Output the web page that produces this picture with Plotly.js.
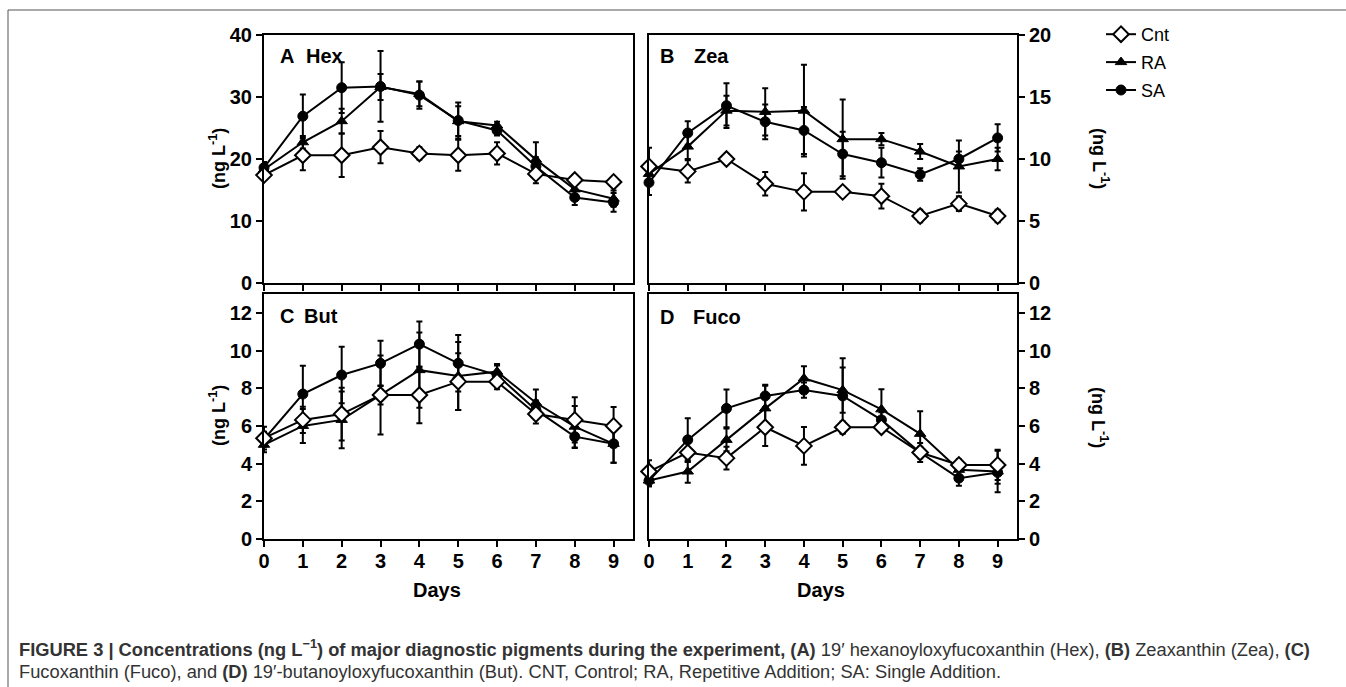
<!DOCTYPE html>
<html>
<head>
<meta charset="utf-8">
<script src="https://cdn.plot.ly/plotly-3.0.1.min.js"></script>
<style>
html,body{margin:0;padding:0;background:#fff;}
#chart{width:1346px;height:687px;}
</style>
</head>
<body>
<div id="chart"></div>
<script>
// ---- data ----
const days = [0, 1, 2, 3, 4, 5, 6, 7, 8, 9];
const seriesNames = ["Cnt", "RA", "SA"];

// A: Hex
const hexCnt    = [17.4, 20.6, 20.6, 21.9, 20.9, 20.6, 20.9, 17.6, 16.6, 16.3];
const hexCntErr = [0.8, 2.4, 3.5, 2.6, 1.0, 2.5, 1.8, 1.5, 0.8, 0.5];
const hexRA     = [18.3, 22.7, 26.1, 31.6, 30.5, 26.1, 25.4, 19.9, 15.1, 13.6];
const hexRAErr  = [0.8, 1.0, 2.0, 2.1, 2.0, 2.4, 0.6, 2.8, 1.0, 1.3];
const hexSA     = [18.6, 26.9, 31.5, 31.7, 30.3, 26.2, 24.6, 18.8, 13.8, 13.0];
const hexSAErr  = [0.9, 3.5, 4.1, 5.7, 2.2, 2.9, 0.8, 1.5, 1.2, 1.5];

// B: Zea
const zeaCnt    = [9.4, 9.0, 10.0, 8.0, 7.35, 7.35, 7.0, 5.4, 6.4, 5.4];
const zeaCntErr = [1.5, 0.9, 0.3, 0.95, 1.5, 0.4, 1.0, 0.5, 0.6, 0.5];
const zeaRA     = [8.8, 11.0, 13.9, 13.8, 13.9, 11.6, 11.6, 10.6, 9.4, 10.0];
const zeaRAErr  = [0.8, 1.0, 1.2, 1.9, 3.7, 3.2, 0.5, 0.6, 2.1, 0.9];
const zeaSA     = [8.1, 12.1, 14.3, 13.0, 12.3, 10.4, 9.7, 8.75, 10.0, 11.7];
const zeaSAErr  = [1.0, 0.95, 1.8, 1.4, 1.9, 1.8, 1.2, 0.5, 0.6, 1.1];

// C: But
const butCnt    = [5.35, 6.32, 6.63, 7.64, 7.64, 8.35, 8.35, 6.63, 6.32, 6.0];
const butCntErr = [0.6, 0.7, 1.4, 0.5, 1.5, 1.5, 0.4, 0.5, 1.2, 1.0];
const butRA     = [5.0, 6.0, 6.32, 7.64, 8.96, 8.65, 8.88, 7.23, 5.96, 5.05];
const butRAErr  = [0.4, 0.9, 1.5, 2.1, 2.0, 1.8, 0.4, 0.7, 1.1, 1.0];
const butSA     = [5.29, 7.69, 8.7, 9.32, 10.34, 9.32, 8.7, 6.85, 5.43, 5.05];
const butSAErr  = [0.4, 1.5, 1.5, 1.2, 1.2, 1.5, 0.5, 0.5, 0.6, 1.0];

// D: Fuco
const fucoCnt    = [3.58, 4.59, 4.29, 5.93, 4.94, 5.93, 5.93, 4.59, 3.93, 3.93];
const fucoCntErr = [0.6, 0.5, 0.6, 1.0, 1.0, 0.3, 0.2, 0.5, 0.3, 0.8];
const fucoRA     = [3.1, 3.58, 5.26, 6.93, 8.52, 7.9, 6.88, 5.58, 3.67, 3.58];
const fucoRAErr  = [0.3, 0.6, 0.6, 1.2, 0.65, 1.2, 1.06, 1.2, 0.4, 1.1];
const fucoSA     = [3.1, 5.26, 6.93, 7.59, 7.9, 7.59, 6.32, 4.59, 3.23, 3.53];
const fucoSAErr  = [0.3, 1.15, 1.0, 0.6, 0.4, 2.0, 0.4, 0.3, 0.4, 0.6];

const xTickVals = days;
const yTicksA = [0, 10, 20, 30, 40];
const yTicksB = [0, 5, 10, 15, 20];
const yTicksCD = [0, 2, 4, 6, 8, 10, 12];

// ---- helpers ----
const W = 1346, H = 687;
const px = v => v / W;
const py = v => 1 - v / H;
const FONT = "Liberation Sans, Arial, Helvetica, sans-serif";

const styles = {
  Cnt: {symbol: "diamond", size: 12, color: "#ffffff", line: {color: "#000", width: 2}},
  RA:  {symbol: "triangle-up", size: 10, color: "#000", line: {color: "#000", width: 1}},
  SA:  {symbol: "circle", size: 10, color: "#000", line: {color: "#000", width: 1}}
};

const panels = [
  {xa: "x",  ya: "y",  data: {Cnt: [hexCnt, hexCntErr], RA: [hexRA, hexRAErr], SA: [hexSA, hexSAErr]}},
  {xa: "x2", ya: "y2", data: {Cnt: [zeaCnt, zeaCntErr], RA: [zeaRA, zeaRAErr], SA: [zeaSA, zeaSAErr]}},
  {xa: "x3", ya: "y3", data: {Cnt: [butCnt, butCntErr], RA: [butRA, butRAErr], SA: [butSA, butSAErr]}},
  {xa: "x4", ya: "y4", data: {Cnt: [fucoCnt, fucoCntErr], RA: [fucoRA, fucoRAErr], SA: [fucoSA, fucoSAErr]}}
];

const traces = [];
const drawOrder = ["RA", "SA", "Cnt"];
panels.forEach((p, i) => {
  drawOrder.forEach(name => {
    const [vals, errs] = p.data[name];
    traces.push({
      type: "scatter", mode: "lines+markers",
      x: days, y: vals, xaxis: p.xa, yaxis: p.ya,
      name: name, legendgroup: name,
      legendrank: seriesNames.indexOf(name) + 1,
      showlegend: i === 0,
      line: {color: "#000", width: 2},
      marker: styles[name],
      error_y: {type: "data", array: errs, visible: true, color: "#000", thickness: 2, width: 3},
      cliponaxis: false,
      hoverinfo: "x+y"
    });
  });
});

const tickFont = {family: FONT, size: 20, color: "#000", weight: "bold"};
const colA = [px(264), px(633)];
const colB = [px(649), px(1017)];
const rowTop = [py(283), py(35)];
const rowBot = [py(539), py(294)];

function xAx(domain, anchor, labels) {
  return {
    domain: domain, anchor: anchor, range: [0, 9.5],
    tickmode: "array", tickvals: xTickVals, ticktext: xTickVals.map(String),
    ticks: "outside", ticklen: 6, tickwidth: 2, tickcolor: "#000",
    showticklabels: labels, tickfont: tickFont, ticklabelstandoff: -3,
    showline: true, linewidth: 2, linecolor: "#000", mirror: true,
    showgrid: false, zeroline: false, fixedrange: true
  };
}
function xIn(over, anchor) {
  return {
    overlaying: over, anchor: anchor, side: "bottom", range: [0, 9.5],
    tickmode: "array", tickvals: xTickVals,
    ticks: "inside", ticklen: 6, tickwidth: 2, tickcolor: "#000",
    showticklabels: false, showline: false, showgrid: false, zeroline: false, fixedrange: true
  };
}
function yAx(domain, anchor, range, tv, side) {
  return {
    domain: domain, anchor: anchor, range: range, side: side,
    tickmode: "array", tickvals: tv, ticktext: tv.map(String),
    ticks: "outside", ticklen: 6, tickwidth: 2, tickcolor: "#000",
    tickfont: tickFont,
    showline: true, linewidth: 2, linecolor: "#000", mirror: true,
    showgrid: false, zeroline: false, fixedrange: true
  };
}

const boldF = (s) => ({family: FONT, size: s, color: "#000", weight: "bold"});
const capF = {family: FONT, size: 18.3, color: "#333"};

const annotations = [
  // panel labels
  {text: "A", x: px(278), y: py(56), xanchor: "left", yanchor: "middle", font: boldF(20)},
  {text: "Hex", x: px(304), y: py(56), xanchor: "left", yanchor: "middle", font: boldF(20)},
  {text: "B", x: px(658), y: py(56), xanchor: "left", yanchor: "middle", font: boldF(20)},
  {text: "Zea", x: px(692), y: py(56), xanchor: "left", yanchor: "middle", font: boldF(20)},
  {text: "C", x: px(278), y: py(316), xanchor: "left", yanchor: "middle", font: boldF(20)},
  {text: "But", x: px(302), y: py(316), xanchor: "left", yanchor: "middle", font: boldF(20)},
  {text: "D", x: px(658), y: py(317), xanchor: "left", yanchor: "middle", font: boldF(20)},
  {text: "Fuco", x: px(691), y: py(317), xanchor: "left", yanchor: "middle", font: boldF(20)},
  // axis titles
  {text: "(ng L<sup>-1</sup>)", x: px(217), y: py(159), textangle: -90, xanchor: "center", yanchor: "middle", font: boldF(18)},
  {text: "(ng L<sup>-1</sup>)", x: px(217), y: py(416), textangle: -90, xanchor: "center", yanchor: "middle", font: boldF(18)},
  {text: "(ng L<sup>-1</sup>)", x: px(1100), y: py(158), textangle: 90, xanchor: "center", yanchor: "middle", font: boldF(18)},
  {text: "(ng L<sup>-1</sup>)", x: px(1100), y: py(417), textangle: 90, xanchor: "center", yanchor: "middle", font: boldF(18)},
  {text: "Days", x: px(437), y: py(590), xanchor: "center", yanchor: "middle", font: boldF(20)},
  {text: "Days", x: px(821), y: py(590), xanchor: "center", yanchor: "middle", font: boldF(20)},
  // caption
  {text: "<b>FIGURE 3 | Concentrations (ng L<sup>−1</sup>) of major diagnostic pigments during the experiment, (A)</b> 19′ hexanoyloxyfucoxanthin (Hex), <b>(B)</b> Zeaxanthin (Zea), <b>(C)</b>",
   x: px(17), y: py(648), xanchor: "left", yanchor: "middle", font: capF},
  {text: "Fucoxanthin (Fuco), and <b>(D)</b> 19′-butanoyloxyfucoxanthin (But). CNT, Control; RA, Repetitive Addition; SA: Single Addition.",
   x: px(17), y: py(671), xanchor: "left", yanchor: "middle", font: capF}
].map(a => Object.assign({xref: "paper", yref: "paper", showarrow: false}, a));

const layout = {
  width: W, height: H,
  margin: {l: 0, r: 0, t: 0, b: 0, pad: 0},
  paper_bgcolor: "#fff", plot_bgcolor: "rgba(0,0,0,0)",
  font: {family: FONT, color: "#000"},
  showlegend: true,
  legend: {
    x: px(1101), y: py(16), xanchor: "left", yanchor: "top",
    font: {family: FONT, size: 18, color: "#000"},
    traceorder: "grouped", tracegroupgap: 1.5,
    bgcolor: "rgba(0,0,0,0)", borderwidth: 0, itemwidth: 30
  },
  xaxis: xAx(colA, "y", false),
  yaxis: yAx(rowTop, "x", [0, 40], yTicksA, "left"),
  xaxis2: xAx(colB, "y2", false),
  yaxis2: yAx(rowTop, "x2", [0, 20], yTicksB, "right"),
  xaxis3: xAx(colA, "y3", true),
  yaxis3: yAx(rowBot, "x3", [0, 13], yTicksCD, "left"),
  xaxis4: xAx(colB, "y4", true),
  yaxis4: yAx(rowBot, "x4", [0, 13], yTicksCD, "right"),
  xaxis5: xIn("x", "y"),
  xaxis6: xIn("x2", "y2"),
  xaxis7: xIn("x3", "y3"),
  xaxis8: xIn("x4", "y4"),
  annotations: annotations,
  shapes: [
    {type: "line", xref: "paper", yref: "paper", x0: px(8), x1: 1, y0: py(10), y1: py(10), line: {color: "#555", width: 1}},
    {type: "line", xref: "paper", yref: "paper", x0: px(8), x1: px(8), y0: py(10), y1: 0, line: {color: "#555", width: 1}}
  ]
};

Plotly.newPlot("chart", traces, layout, {displayModeBar: false, staticPlot: true});
</script>
</body>
</html>
